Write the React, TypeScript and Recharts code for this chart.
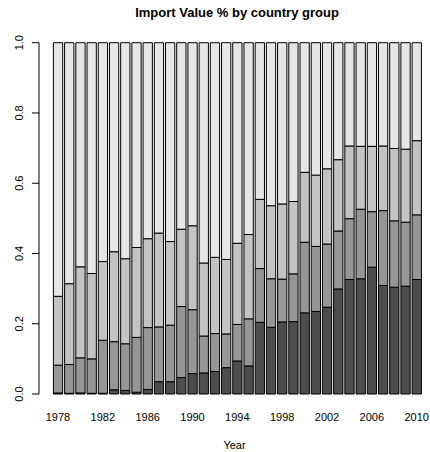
import React from "react";
import { BarChart, Bar, XAxis, YAxis } from "recharts";

const years = [
  1978, 1979, 1980, 1981, 1982, 1983, 1984, 1985, 1986, 1987, 1988,
  1989, 1990, 1991, 1992, 1993, 1994, 1995, 1996, 1997, 1998, 1999,
  2000, 2001, 2002, 2003, 2004, 2005, 2006, 2007, 2008, 2009, 2010,
];

// share of each country group, bottom to top
const group1 = [
  0.003, 0.002, 0.003, 0.002, 0.002, 0.012, 0.010, 0.005, 0.013, 0.035, 0.035,
  0.047, 0.058, 0.060, 0.064, 0.075, 0.094, 0.080, 0.204, 0.190, 0.205, 0.206,
  0.231, 0.235, 0.247, 0.299, 0.326, 0.328, 0.361, 0.309, 0.304, 0.307, 0.326,
];
const group2 = [
  0.079, 0.082, 0.100, 0.098, 0.151, 0.137, 0.133, 0.156, 0.176, 0.156, 0.161,
  0.202, 0.182, 0.105, 0.108, 0.096, 0.104, 0.134, 0.153, 0.138, 0.122, 0.136,
  0.201, 0.185, 0.180, 0.165, 0.173, 0.198, 0.158, 0.213, 0.189, 0.182, 0.184,
];
const group3 = [
  0.196, 0.230, 0.259, 0.243, 0.224, 0.256, 0.242, 0.256, 0.253, 0.267, 0.238,
  0.220, 0.239, 0.208, 0.217, 0.212, 0.231, 0.240, 0.197, 0.208, 0.214, 0.206,
  0.199, 0.203, 0.214, 0.203, 0.207, 0.179, 0.186, 0.184, 0.206, 0.208, 0.211,
];
const group4 = [
  0.722, 0.686, 0.638, 0.657, 0.623, 0.595, 0.615, 0.583, 0.558, 0.542, 0.566,
  0.531, 0.521, 0.627, 0.611, 0.617, 0.571, 0.546, 0.446, 0.464, 0.459, 0.452,
  0.369, 0.377, 0.359, 0.333, 0.294, 0.295, 0.295, 0.294, 0.301, 0.303, 0.279,
];

const yTicks = [0, 0.2, 0.4, 0.6, 0.8, 1.0];

const data = years.map((y, i) => ({
  year: y,
  g1: group1[i],
  g2: group2[i],
  g3: group3[i],
  g4: group4[i],
}));

const font = "'Liberation Sans', Arial, sans-serif";

const YTick = (props: any) => {
  const { x, y, payload } = props;
  return (
    <text
      transform={`translate(${x - 11}, ${y}) rotate(-90)`}
      textAnchor="middle"
      dominantBaseline="central"
      fontSize={11}
      fontFamily={font}
      fill="#000"
    >
      {payload.value.toFixed(1)}
    </text>
  );
};

const XTick = (props: any) => {
  const { x, y, payload } = props;
  return (
    <text
      x={x}
      y={y}
      dy={27}
      textAnchor="middle"
      fontSize={11}
      fontFamily={font}
      fill="#000"
    >
      {payload.value}
    </text>
  );
};

export default function App() {
  return (
    <div style={{ position: "absolute", left: 0, top: 0, width: 430, height: 452, background: "#fff" }}>
      <div
        style={{
          position: "absolute",
          left: 0,
          width: 474,
          top: 5,
          textAlign: "center",
          fontFamily: font,
          fontWeight: "bold",
          fontSize: 13,
        }}
      >
        Import Value % by country group
      </div>
      <BarChart
        width={430}
        height={452}
        data={data}
        margin={{ top: 42.7, right: 0, bottom: 0, left: 0 }}
        barSize={9.3}
      >
        <XAxis
          dataKey="year"
          interval={3}
          axisLine={false}
          tickLine={false}
          tickSize={0}
          tickMargin={0}
          height={58}
          padding={{ left: 13.4, right: 7.7 }}
          tick={<XTick />}
          label={{
            value: "Year",
            position: "insideBottom",
            offset: 3,
            fontSize: 11,
            fontFamily: font,
            fill: "#000",
          }}
        />
        <YAxis
          type="number"
          domain={[0, 1]}
          ticks={yTicks}
          width={39}
          tickSize={7}
          tickMargin={2}
          stroke="#000"
          axisLine={{ stroke: "#000" }}
          tickLine={{ stroke: "#000" }}
          tick={<YTick />}
        />
        <Bar dataKey="g1" stackId="a" fill="#4d4d4d" stroke="#000" strokeWidth={1} isAnimationActive={false} />
        <Bar dataKey="g2" stackId="a" fill="#969696" stroke="#000" strokeWidth={1} isAnimationActive={false} />
        <Bar dataKey="g3" stackId="a" fill="#c3c3c3" stroke="#000" strokeWidth={1} isAnimationActive={false} />
        <Bar dataKey="g4" stackId="a" fill="#e6e6e6" stroke="#000" strokeWidth={1} isAnimationActive={false} />
      </BarChart>
    </div>
  );
}
